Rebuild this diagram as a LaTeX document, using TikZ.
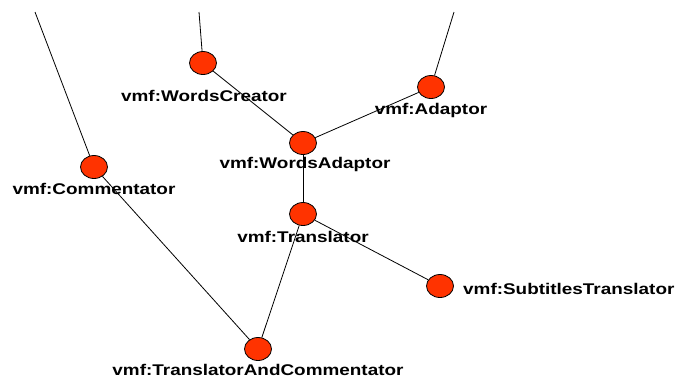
\documentclass[tikz,border=0pt]{standalone}
\usepackage{fontspec}
\newfontfamily\labelfont{Liberation Sans}[FakeStretch=1.22]
\usetikzlibrary{shapes.geometric}
\definecolor{nodered}{RGB}{255,51,0}
\begin{document}
\begin{tikzpicture}[x=1pt,y=-1pt,
  vertex/.style={ellipse, draw=black, line width=0.8pt, fill=nodered,
    minimum width=27pt, minimum height=23pt, inner sep=0pt},
  tag/.style={inner sep=0pt, anchor=base,
    font=\labelfont\bfseries\fontsize{15.5}{18}\selectfont},
  link/.style={draw=black, line width=0.8pt}]
\useasboundingbox (0,0) rectangle (680,378);

% vertices
\node[vertex] (wc)  at (203,63)  {};
\node[vertex] (ad)  at (431,87)  {};
\node[vertex] (wa)  at (303,143) {};
\node[vertex] (cm)  at (94,167)  {};
\node[vertex] (tr)  at (303,214) {};
\node[vertex] (st)  at (440,286) {};
\node[vertex] (tac) at (258,349) {};

% loose ends at the top
\coordinate (wcTop) at (199,12);
\coordinate (adTop) at (454,12);
\coordinate (cmTop) at (35,12);

% labels
\node[tag] (wcL)  at (204,101) {vmf:WordsCreator};
\node[tag] (adL)  at (431,114) {vmf:Adaptor};
\node[tag] (waL)  at (305,168) {vmf:WordsAdaptor};
\node[tag] (cmL)  at (94,194)  {vmf:Commentator};
\node[tag] (trL)  at (303,242) {vmf:Translator};
\node[tag, anchor=base west] (stL) at (463,294) {vmf:SubtitlesTranslator};
\node[tag] (tacL) at (258,375) {vmf:TranslatorAndCommentator};

% connectors
\draw[link] (wcTop) -- (wc);
\draw[link] (adTop) -- (ad);
\draw[link] (cmTop) -- (cm);
\draw[link] (wc) -- (wa);
\draw[link] (ad) -- (wa);
\draw[link] (wa) -- (tr);
\draw[link] (tr) -- (st);
\draw[link] (tr) -- (tac);
\draw[link] (cm) -- (tac);
\end{tikzpicture}
\end{document}
